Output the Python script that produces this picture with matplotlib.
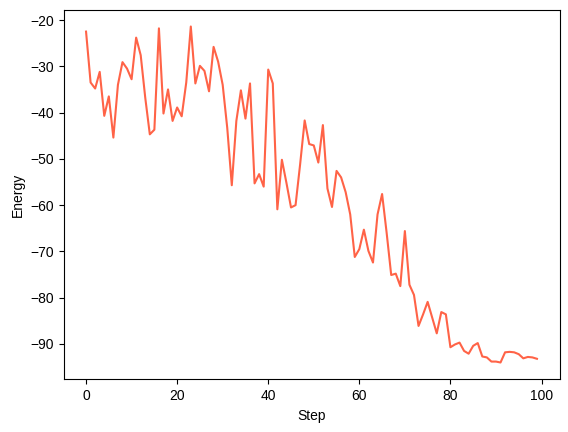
import matplotlib
matplotlib.use("Agg")
from matplotlib import pyplot as plt

plt.rcParams['font.family'] = ['Liberation Sans', 'DejaVu Sans']

# energy per step
steps = list(range(100))
energy = [
    -22.5, -33.5, -34.8, -31.2, -40.7, -36.5, -45.4, -34.0, -29.1, -30.5,
    -32.8, -23.8, -27.6, -36.8, -44.7, -43.7, -21.8, -40.2, -35.0, -41.8,
    -38.9, -40.8, -33.5, -21.4, -33.7, -29.9, -31.0, -35.4, -25.8, -29.0,
    -34.0, -43.3, -55.7, -41.8, -35.2, -41.3, -33.7, -55.3, -53.3, -56.0,
    -30.7, -33.7, -60.9, -50.2, -55.2, -60.5, -60.0, -51.2, -41.7, -46.8,
    -47.1, -50.8, -42.7, -56.4, -60.4, -52.6, -54.0, -57.2, -62.0, -71.2,
    -69.5, -65.3, -69.9, -72.4, -62.0, -57.6, -66.0, -75.1, -74.8, -77.5,
    -65.6, -77.2, -79.4, -86.1, -83.6, -80.9, -84.3, -87.7, -83.1, -83.6,
    -90.7, -90.1, -89.7, -91.5, -92.1, -90.4, -89.8, -92.7, -92.9, -93.8,
    -93.8, -94.0, -91.8, -91.7, -91.8, -92.2, -93.1, -92.8, -92.9, -93.2,
]

fig = plt.figure(figsize=(5.68, 4.32), dpi=100)
ax = fig.add_axes([63.5 / 568, 52.7 / 432, 496 / 568, 369.6 / 432])

ax.plot(steps, energy, color='tomato', linewidth=1.5)
ax.set_xlabel('Step')
ax.set_ylabel('Energy')

fig.savefig('out.png', dpi=100)
